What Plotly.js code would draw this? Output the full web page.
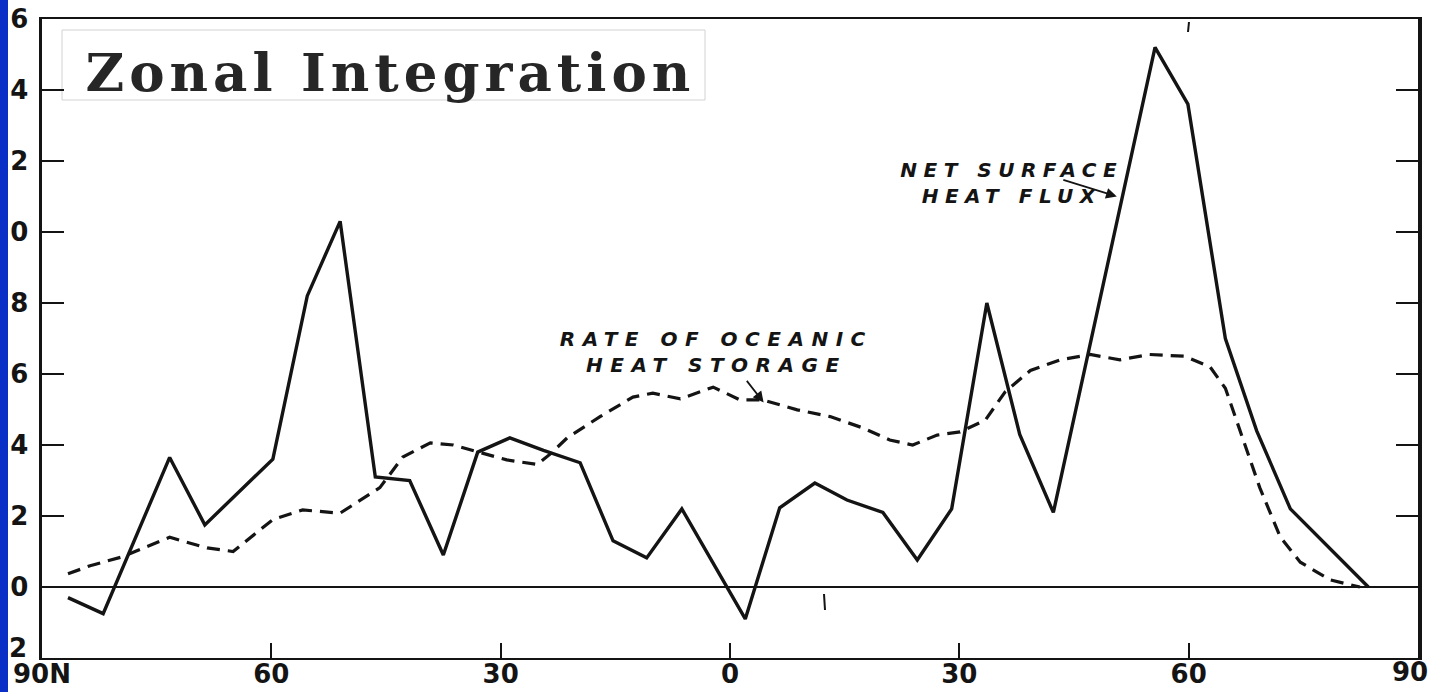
<!DOCTYPE html>
<html>
<head>
<meta charset="utf-8">
<script src="https://cdn.plot.ly/plotly-3.0.1.min.js"></script>
<style>
  html, body { margin: 0; padding: 0; background: #ffffff; }
  #chart { width: 1433px; height: 692px; }
  /* hand-lettered labels are drawn wide */
  .annotation[data-index="0"] text { letter-spacing: 5px; }
  .annotation[data-index="1"] text { letter-spacing: 6.5px; }
  .annotation[data-index="2"] text { letter-spacing: 7.5px; }
</style>
</head>
<body>
<div id="chart"></div>
<script>
// Latitude (degrees, north positive) and values for the two zonal curves
const fluxLat = [86.6, 82.0, 73.3, 68.7, 59.8, 55.3, 51.0, 46.4, 41.9, 37.5, 33.0, 28.8, 24.4, 19.6, 15.3, 10.9, 6.3,
                 -2.0, -6.5, -11.1, -15.3, -20.0, -24.5, -29.0, -33.6, -37.9, -42.3, -55.6, -59.9, -64.8, -68.9, -73.3, -83.5];
const fluxVal = [-0.3, -0.75, 3.65, 1.75, 3.6, 8.2, 10.3, 3.1, 3.0, 0.9, 3.8, 4.2, 3.85, 3.5, 1.3, 0.82, 2.2,
                 -0.9, 2.23, 2.93, 2.45, 2.1, 0.76, 2.2, 8.0, 4.3, 2.1, 15.2, 13.6, 7.0, 4.4, 2.2, 0];

const storeLat = [86.6, 83.7, 79.5, 73.3, 68.4, 65.0, 59.8, 55.9, 51.0, 45.8, 42.8, 39.2, 36.2, 33.0, 29.2, 25.2, 23.5,
                  21.3, 17.0, 12.7, 10.1, 6.5, 2.2, -1.3, -4.3, -8.8, -13.1, -17.4, -20.9, -23.9, -27.1, -30.1, -33.4,
                  -36.0, -39.3, -43.2, -47.1, -51.0, -54.9, -59.5, -62.8, -64.8, -66.7, -69.3, -72.0, -74.6, -78.5, -82.4];
const storeVal = [0.37, 0.6, 0.85, 1.4, 1.1, 1.0, 1.9, 2.17, 2.08, 2.8, 3.66, 4.06, 4.0, 3.8, 3.58, 3.45, 3.75,
                  4.2, 4.8, 5.35, 5.46, 5.3, 5.63, 5.27, 5.27, 4.99, 4.8, 4.48, 4.14, 4.0, 4.28, 4.37, 4.7,
                  5.5, 6.1, 6.4, 6.55, 6.4, 6.55, 6.5, 6.2, 5.6, 4.4, 2.8, 1.4, 0.7, 0.2, 0];

// axis labels; the outermost ones are set by hand where the page edge crowds them
const latTicks = [90, 60, 30, 0, -30, -60, -90];
const latLabels = ['90N', '60', '30', '0', '30', '60', ''];
const latEndLabel = '90';
// the left edge of the page hides the leading characters of the value labels
const valTicks = [-2, 0, 2, 4, 6, 8, 10, 12, 14, 16];
const valLabels = ['', '0', '2', '4', '6', '8', '0', '2', '4', '6'];
const valEndLabel = '2';

// page geometry
const W = 1433, H = 692;
const M = { l: 42, r: 15, t: 19, b: 34 };
const PW = W - M.l - M.r, PH = H - M.t - M.b;
const px = x => (x - M.l) / PW;          // page pixel -> paper x
const py = y => (M.t + PH - y) / PH;     // page pixel -> paper y

const ink = '#141414';
const letterFont = { family: 'DejaVu Sans', size: 20, color: ink, style: 'italic', weight: 'bold' };
const tickFont = { family: 'DejaVu Sans', size: 26, color: ink, weight: 'bold' };

const traces = [
  {
    x: storeLat, y: storeVal, type: 'scatter', mode: 'lines',
    line: { color: ink, width: 3.2, dash: '13px,8px' },
    hoverinfo: 'skip'
  },
  {
    x: fluxLat, y: fluxVal, type: 'scatter', mode: 'lines',
    line: { color: ink, width: 3.4 },
    hoverinfo: 'skip'
  }
];

const layout = {
  width: W, height: H,
  margin: M,
  paper_bgcolor: '#ffffff',
  plot_bgcolor: '#ffffff',
  showlegend: false,
  xaxis: {
    range: [90, -90],
    tickmode: 'array', tickvals: latTicks, ticktext: latLabels,
    ticks: 'inside', ticklen: 15, tickwidth: 2, tickcolor: ink,
    showline: true, linewidth: 2, linecolor: ink, mirror: true,
    showgrid: false, zeroline: false,
    ticklabelstandoff: -8,
    tickfont: tickFont
  },
  yaxis: {
    range: [-2, 16],
    tickmode: 'array', tickvals: valTicks, ticktext: valLabels,
    ticks: 'inside', ticklen: 22, tickwidth: 2, tickcolor: ink,
    showline: true, linewidth: 3.5, linecolor: ink, mirror: 'ticks',
    showgrid: false,
    zeroline: true, zerolinewidth: 2, zerolinecolor: ink,
    ticklabelstandoff: 5,
    tickfont: tickFont
  },
  shapes: [
    // slide background strip on the left edge
    { type: 'rect', xref: 'paper', yref: 'paper', layer: 'above',
      x0: px(0), x1: px(8), y0: py(H), y1: py(0),
      fillcolor: '#0a2fc6', line: { width: 0 } },
    // frame around the heading
    { type: 'rect', xref: 'paper', yref: 'paper', layer: 'below',
      x0: px(62), x1: px(705), y0: py(100), y1: py(30),
      fillcolor: '#ffffff', line: { color: '#d2d2d2', width: 1 } },
    // small pen marks on the sheet
    { type: 'line', xref: 'paper', yref: 'paper', layer: 'above',
      x0: px(824), x1: px(825), y0: py(594), y1: py(610),
      line: { color: ink, width: 2 } },
    { type: 'line', xref: 'paper', yref: 'paper', layer: 'above',
      x0: px(1189), x1: px(1188), y0: py(22), y1: py(32),
      line: { color: ink, width: 2 } }
  ],
  annotations: [
    { text: 'Zonal Integration', xref: 'paper', yref: 'paper',
      x: px(390), y: py(72), xanchor: 'center', yanchor: 'middle', showarrow: false,
      font: { family: 'DejaVu Serif', size: 53, color: '#262626', weight: 'bold' } },
    { text: 'NET SURFACE<br>HEAT FLUX', xref: 'paper', yref: 'paper',
      x: px(1012), y: py(183), xanchor: 'center', yanchor: 'middle', showarrow: false,
      align: 'center', font: letterFont },
    { text: 'RATE OF OCEANIC<br>HEAT STORAGE', xref: 'paper', yref: 'paper',
      x: px(716), y: py(352), xanchor: 'center', yanchor: 'middle', showarrow: false,
      align: 'center', font: letterFont },
    // pointer to the net surface heat flux curve
    { text: '', x: -50.6, y: 11.0, xref: 'x', yref: 'y',
      showarrow: true, ax: -55, ay: -17, arrowhead: 2, arrowsize: 1.2, arrowwidth: 1.8, arrowcolor: ink },
    // pointer to the heat storage curve
    { text: '', x: -4.4, y: 5.2, xref: 'x', yref: 'y',
      showarrow: true, ax: -18, ay: -23, arrowhead: 2, arrowsize: 1.2, arrowwidth: 1.8, arrowcolor: ink },
    // corner labels
    { text: latEndLabel, xref: 'paper', yref: 'paper',
      x: px(1430), y: py(672), xanchor: 'right', yanchor: 'middle', showarrow: false,
      font: tickFont },
    { text: valEndLabel, xref: 'paper', yref: 'paper',
      x: px(29), y: py(648), xanchor: 'right', yanchor: 'middle', showarrow: false,
      font: tickFont }
  ]
};

Plotly.newPlot('chart', traces, layout, { staticPlot: true, displayModeBar: false });
</script>
</body>
</html>
